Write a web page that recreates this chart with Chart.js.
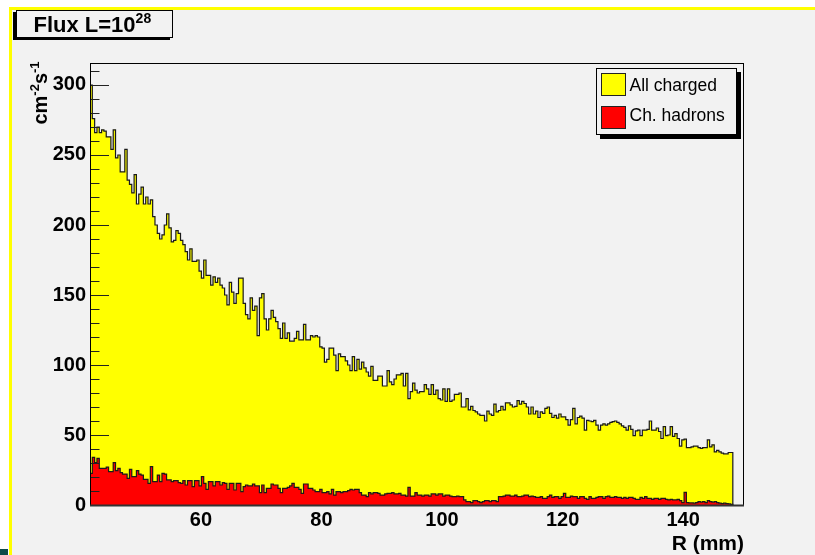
<!DOCTYPE html>
<html><head><meta charset="utf-8">
<script src="https://cdn.jsdelivr.net/npm/chart.js@4.4.0/dist/chart.umd.min.js"></script>
<style>
html,body{margin:0;padding:0;background:#fff;}
#wrap{position:relative;width:815px;height:555px;overflow:hidden;background:#fff;font-family:'Liberation Sans',Arial,Helvetica,sans-serif;}
#pad{position:absolute;left:9px;top:7px;right:0;bottom:0;border-top:3px solid #ffff00;border-left:3px solid #ffff00;background:#f2f2f2;}
#teal{position:absolute;left:0;top:549px;width:8px;height:6px;background:#0e4a4a;}
#c{position:absolute;left:0;top:0;}
.t{position:absolute;white-space:nowrap;color:#000;}
#titlebox{position:absolute;left:16px;top:10px;width:155px;height:26px;border:1px solid #000;background:#f2f2f2;box-shadow:-3px 2px 0 #000;}
#title{left:33.5px;top:13.5px;font-weight:bold;font-size:22px;line-height:22px;}
#legbox{position:absolute;left:596px;top:68px;width:139px;height:65px;border:1px solid #000;background:#f2f2f2;box-shadow:4px 4px 0 #000;}
.sw{position:absolute;left:601px;width:23px;height:21px;border:1px solid #222;}
.lt{left:629.5px;font-size:17.5px;line-height:17.5px;}
#ytitle{left:0px;top:80.5px;width:80px;height:24px;line-height:24px;text-align:center;font-weight:bold;font-size:20px;transform:rotate(-90deg);}
#xtitle{right:71px;top:532px;font-weight:bold;font-size:21px;line-height:21px;}
.sp{font-size:13px;line-height:0;vertical-align:8px;}
#title .sp{font-size:14px;vertical-align:9px;}
</style></head>
<body>
<div id="wrap">
  <div id="pad"></div>
  <div id="teal"></div>
  <canvas id="c" width="815" height="555"></canvas>
  <div id="titlebox"></div>
  <div class="t" id="title">Flux L=10<span class="sp">28</span></div>
  <div id="legbox"></div>
  <div class="sw" style="top:73px;background:#ffff00;"></div>
  <div class="sw" style="top:106px;background:#ff0000;"></div>
  <div class="t lt" style="top:77px;">All charged</div>
  <div class="t lt" style="top:107px;">Ch. hadrons</div>
  <div class="t" id="ytitle">cm<span class="sp">-2</span>s<span class="sp">-1</span></div>
  <div class="t" id="xtitle">R (mm)</div>
</div>
<script>
// ---- data ----
const binStart = 41.6;   // mm, left edge of first bin
const binWidth = 0.385;  // mm
const xMin = 41.6, xMax = 150.1;
const yMin = 0, yMax = 315.7;
const xTickLabels = [60, 80, 100, 120, 140];
const yTickLabels = [0, 50, 100, 150, 200, 250, 300];

const allCharged = [
300,276,266,270,266,268,267,263,263,254,268,248,250,238,238,254,232,229,223,236,215,222,
227,215,220,215,218,206,200,194,190,193,200,208,198,188,189,196,194,189,186,181,175,183,174,174,175,167,162,175,164,164,157,163,159,162,157,155,150,143,159,152,144,151,162,162,144,136,133,148,139,142,121,148,151,133,125,133,139,134,131,126,119,130,119,123,117,117,119,124,118,118,129,118,118,121,120,
121,120,113,112,102,104,112,112,107,96,108,106,106,103,100,96,106,96,104,97,102,98,95,92,
99,89,89,92,92,85,85,96,88,86,90,93,93,94,85,94,76,81,87,82,80,81,81,86,83,79,86,79,82,76,75,83,74,83,74,75,79,79,80,
70,70,76,68,70.5,67.5,66.5,65,64,64,60,67,65,64,72,66.5,67.5,70.5,68,73,73,71.5,70,70.5,74.5,72,74,72.5,70,65,70,65,67,62.5,66.5,65.5,69,70,65.5,62.5,64,62,65,63,63,61,57,61,69,58,62.5,63.5,62,53.5,60.5,60,59.5,60.5,57,53.5,57,58,57,58,59,59.5,60,59,58,56.5,55.5,53.5,56.5,54,49.5,53,53.5,49.5,53.5,53.5,54,60,53.5,53.5,55,52.5,47.5,56,49.5,50,56,49,51,47.5,42,46.5,47,41,41,41.5,42,42,41,40.5,41,41,46.5,41.5,43,38,39,38,37,36.5,36.5,37.5,37.5
];

const chHadrons = [
22.6,34,30.2,33.3,26.2,26.2,26.2,27,23.8,
23.8,30.2,24.5,26.2,23.1,22.1,22.1,19,25.5,
20.2,20.2,24.5,22.1,21.4,18.3,18.3,15.5,27.4,
16.7,16.7,21.4,16.7,22.6,22.1,17.9,17.9,16.7,
17.4,17.4,16,15.5,17.4,14.3,17.4,17.4,13.1,
17.4,17.4,13.6,20.2,15.5,11.2,16.7,16.7,13.6,
16.7,16.7,14.3,16,15.5,11.2,15.5,15.5,10.7,
15.5,15.5,9.5,13.1,14.3,13.6,13.6,15,13.6,
13.6,8.8,14.3,8.8,11.9,11.9,15,14.3,14.3,
11.9,8.8,11.9,11.9,12.6,13.6,15.5,12.6,12.6,
11.2,8.3,15,15,11.9,11.9,10.7,9.5,9.5,
11.2,8.8,8.8,9.5,7.9,11.2,7.1,9.5,9.5,
8.8,9.5,9.5,10.2,11.2,10.7,11.2,11.2,8.8,
7.1,7.1,6,8.8,7.9,8.8,8.8,8.3,7.1,
7.1,7.9,8.3,8.3,8.8,7.9,7.9,8.3,7.1,7.1,
6.4,12.6,6.4,6.4,8.8,7.1,7.1,6.4,7.1,7.1,
6.4,7.9,7.9,7.1,7.9,7.9,6.4,7.1,7.1,6.4,
6,6,6.4,6,6,3.6,2.4,2.4,1.7,3.1,
3.1,2.4,1.7,2.4,3.1,3.1,2.4,3.1,3.1,
2.4,6,6,6.4,7.1,7.1,6.4,6.4,7.1,
6,6,6.4,7.1,7.1,6,6.4,6,5.5,
5.5,6,4.8,4.8,6,7.1,5.5,6,6,
4.8,6,8.3,5.5,5.5,6.4,6,6,4.8,
6,6,4.8,4,6,4.8,4.8,5.5,6,
6,4.8,6,6.4,5.5,5.5,6,5.5,5.5,
4.8,5.5,4.8,5.5,5.5,4.8,4,4,5.5,
4.8,6,4.8,4.8,4,4.8,4.8,4,4.8,
4.8,4,3.6,4,3.6,3.6,4,3.1,1.7,
9,
1.7,1.5,1.5,1.3,1.7,2.4,2.0,2.4,1.7,3.1,2.4,2.0,2.4,1.7,1.3,1.0,1.3,1.0,0.8,0.5
];

// ---- build step points (histogram outline) from the arrays ----
function histPoints(vals){
  const pts = vals.map((v,i)=>({x: binStart + i*binWidth, y: v}));
  const end = binStart + vals.length*binWidth;
  pts.push({x:end, y:vals[vals.length-1]});
  pts.push({x:end, y:0});
  return pts;
}

const FONT = "'Liberation Sans', Arial, Helvetica, sans-serif";

const overlay = {
  id:'overlay',
  afterDatasetsDraw(chart){
    const ctx = chart.ctx, a = chart.chartArea, ys = chart.scales.y;
    ctx.save();
    ctx.strokeStyle = '#222'; ctx.lineWidth = 1;
    ctx.beginPath();
    for (let v = 0; v <= yMax; v += 10){
      const p = Math.round(ys.getPixelForValue(v)) + 0.5;
      const len = (v % 50 === 0) ? 19 : 9.5;
      ctx.moveTo(a.left, p); ctx.lineTo(a.left + len, p);
    }
    ctx.stroke();
    ctx.restore();
  },
  afterDraw(chart){
    const ctx = chart.ctx, a = chart.chartArea;
    ctx.save();
    ctx.strokeStyle = '#000'; ctx.lineWidth = 1;
    ctx.strokeRect(a.left + 0.5, a.top + 0.5, a.right - a.left - 1, a.bottom - a.top);
    ctx.strokeStyle = '#333'; ctx.lineWidth = 2;
    ctx.beginPath(); ctx.moveTo(a.left, a.bottom + 0.5); ctx.lineTo(a.right, a.bottom + 0.5); ctx.stroke();
    ctx.restore();
  }
};

new Chart(document.getElementById('c'), {
  type: 'line',
  data: {
    datasets: [
      { label:'Ch. hadrons', data: histPoints(chHadrons), stepped:true, fill:'origin',
        backgroundColor:'#ff0000', borderColor:'#1a1a1a', borderWidth:1.2, pointRadius:0, order:0 },
      { label:'All charged', data: histPoints(allCharged), stepped:true, fill:'origin',
        backgroundColor:'#ffff00', borderColor:'#1a1a1a', borderWidth:1.2, pointRadius:0, order:1 }
    ]
  },
  options: {
    responsive:false, animation:false, devicePixelRatio:1,
    layout:{ padding:{ left:0, right:71, top:63, bottom:0 } },
    plugins:{ legend:{display:false}, tooltip:{enabled:false} },
    events: [],
    scales:{
      x:{ type:'linear', min:xMin, max:xMax,
          afterBuildTicks: s => { s.ticks = xTickLabels.map(v => ({value:v})); },
          afterFit: s => { s.height = 50; },
          grid:{ display:false, drawTicks:false }, border:{ display:false },
          ticks:{ color:'#000', padding:3, maxRotation:0, autoSkip:false,
                  font:{ family:FONT, size:20, weight:'bold' } } },
      y:{ type:'linear', min:yMin, max:yMax,
          afterBuildTicks: s => { s.ticks = yTickLabels.map(v => ({value:v})); },
          afterFit: s => { s.width = 90; },
          grid:{ display:false, drawTicks:false }, border:{ display:false },
          ticks:{ color:'#000', padding:4, autoSkip:false,
                  font:{ family:FONT, size:20, weight:'bold' } } }
    }
  },
  plugins:[overlay]
});
</script>
</body></html>
